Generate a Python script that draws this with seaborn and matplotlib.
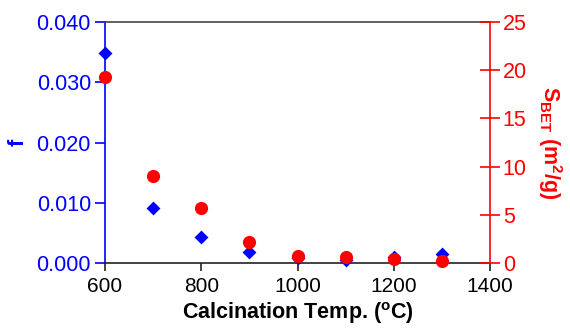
import matplotlib
matplotlib.use("Agg")
import matplotlib.pyplot as plt
import seaborn as sns
import pandas as pd

# data
temps = [600, 700, 800, 900, 1000, 1100, 1200, 1300]
f_vals = [0.0348, 0.0092, 0.0044, 0.0018, 0.0008, 0.0005, 0.00105, 0.0015]
sbet_vals = [19.3, 9.06, 5.67, 2.21, 0.73, 0.59, 0.38, 0.2]

df = pd.DataFrame({"temp": temps, "f": f_vals, "sbet": sbet_vals})

sns.set_theme(style="white")
plt.rcParams["font.family"] = ["Liberation Sans", "DejaVu Sans"]
plt.rcParams["mathtext.fontset"] = "custom"
plt.rcParams["mathtext.rm"] = "Liberation Sans"
plt.rcParams["mathtext.bf"] = "Liberation Sans:bold"

blue = "#0000ff"
red = "#ff0000"

fig = plt.figure(figsize=(5.7, 3.3), dpi=100)
ax = fig.add_axes([0.184, 0.203, 0.676, 0.730])
ax2 = ax.twinx()

sns.scatterplot(data=df, x="temp", y="f", ax=ax, marker="D", s=50,
                color=blue, edgecolor=blue, linewidth=0, zorder=3, clip_on=False)
sns.scatterplot(data=df, x="temp", y="sbet", ax=ax2, marker="o", s=90,
                color=red, edgecolor=red, linewidth=0, zorder=3, clip_on=False)

ax.set_xlim(600, 1400)
ax.set_ylim(0, 0.040)
ax2.set_ylim(0, 25)
ax.set_xticks([600, 800, 1000, 1200, 1400])
ax.set_yticks([0, 0.01, 0.02, 0.03, 0.04])
ax.set_yticklabels(["0.000", "0.010", "0.020", "0.030", "0.040"])
ax2.set_yticks([0, 5, 10, 15, 20, 25])

for a in (ax, ax2):
    for s in a.spines.values():
        s.set_visible(False)

ax.spines["bottom"].set_visible(True)
ax.spines["bottom"].set_color("#222222")
ax.spines["top"].set_visible(True)
ax.spines["top"].set_color("#444444")
ax.spines["left"].set_visible(True)
ax.spines["left"].set_color(blue)
ax2.spines["right"].set_visible(True)
ax2.spines["right"].set_color(red)
for sp in ("bottom", "top", "left"):
    ax.spines[sp].set_linewidth(1.2)
ax2.spines["right"].set_linewidth(1.2)

ax.tick_params(axis="x", direction="out", length=6, width=1.2, colors="#222222",
               labelsize=15, labelcolor="black", pad=4, top=False, bottom=True)
ax.tick_params(axis="y", direction="out", length=7, width=1.2, colors=blue,
               labelsize=15.5, labelcolor=blue, pad=3, left=True)
ax2.tick_params(axis="y", direction="inout", length=14, width=1.2, colors=red,
                labelsize=15.5, labelcolor=red, pad=2, right=True)

ax.set_xlabel(r"Calcination Temp. ($^\mathbf{o}$C)", fontsize=15.5, fontweight="bold",
              color="black", labelpad=3)
ax.set_ylabel("f", fontsize=15.5, fontweight="bold", color=blue, labelpad=6)
ax2.set_ylabel(r"S$_\mathbf{BET}$ (m$^\mathbf{2}$/g)", fontsize=15.5, fontweight="bold",
               color=red, rotation=270, labelpad=27)

fig.savefig("out.png", dpi=100)
